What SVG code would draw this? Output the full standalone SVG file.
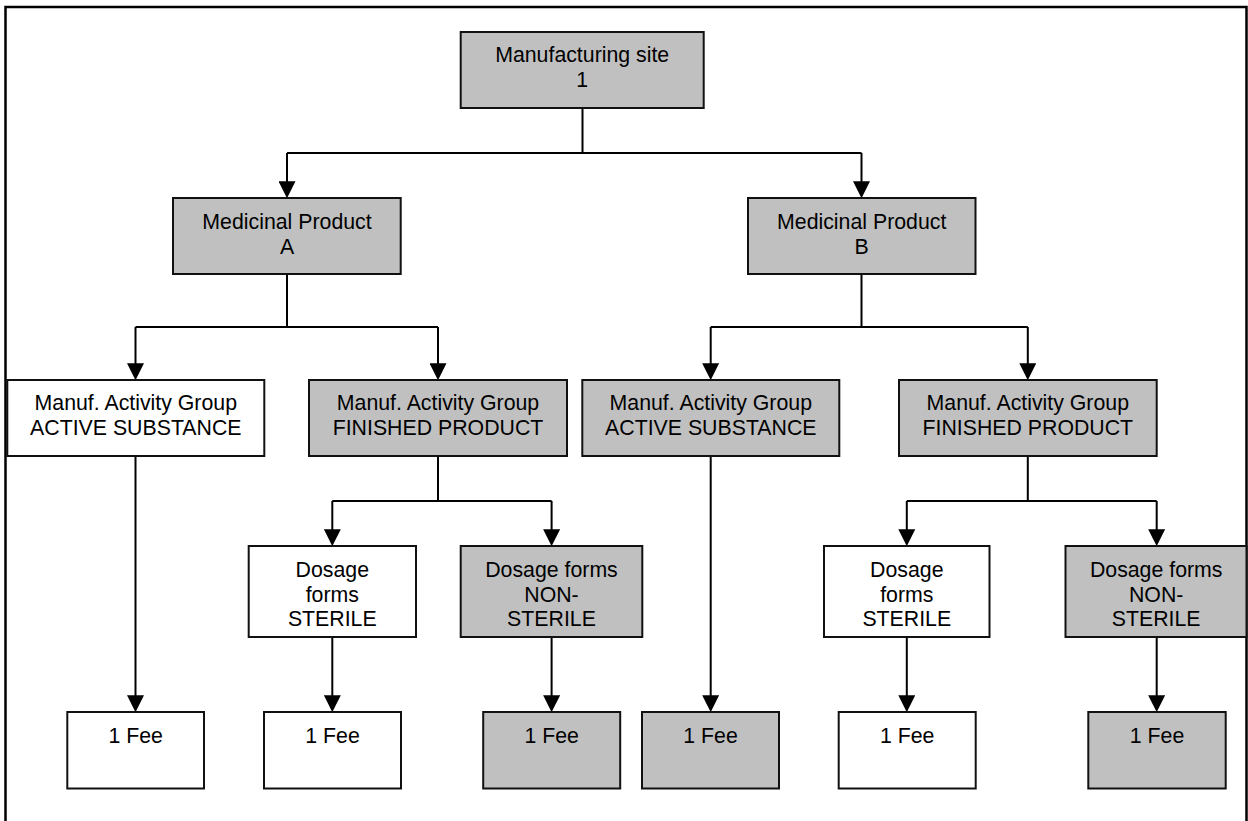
<svg xmlns="http://www.w3.org/2000/svg" width="1248" height="821" viewBox="0 0 1248 821">
<style>
.box{stroke:#111;stroke-width:2}
.g{fill:#C0C0C0}
.w{fill:#FFFFFF}
text{font-family:"Liberation Sans",Arial,sans-serif;font-size:21.3px;fill:#000;text-anchor:middle}
.c{fill:none;stroke:#000;stroke-width:2}
.a{fill:none;stroke:#000;stroke-width:2;marker-end:url(#arr)}
</style>
<defs>
<marker id="arr" markerUnits="userSpaceOnUse" markerWidth="17" markerHeight="17" viewBox="0 0 16 16" refX="13" refY="8" orient="auto">
<path d="M0,0 L16,8 L0,16 Z" fill="#000"/>
</marker>
</defs>
<rect width="1248" height="821" fill="#fff"/>
<path id="frame" d="M5.5,830 V7 H1246.5 V830" fill="none" stroke="#000" stroke-width="2.5"/>
<g id="connectors">
<path class="c" d="M582.5,108 V153 M287,153 H861.5"/>
<path class="a" d="M287,153 V195"/>
<path class="a" d="M861.5,153 V195"/>
<path class="c" d="M287,274 V327 M135.5,327 H438"/>
<path class="a" d="M135.5,327 V377"/>
<path class="a" d="M438,327 V377"/>
<path class="c" d="M861.5,274 V327 M710.7,327 H1027.8"/>
<path class="a" d="M710.7,327 V377"/>
<path class="a" d="M1027.8,327 V377"/>
<path class="a" d="M135.5,456 V709"/>
<path class="c" d="M438,456 V501 M332.3,501 H551.6"/>
<path class="a" d="M332.3,501 V543"/>
<path class="a" d="M551.6,501 V543"/>
<path class="a" d="M710.7,456 V709"/>
<path class="c" d="M1027.8,456 V501 M906.8,501 H1156.7"/>
<path class="a" d="M906.8,501 V543"/>
<path class="a" d="M1156.7,501 V543"/>
<path class="a" d="M332.3,637 V709"/>
<path class="a" d="M551.6,637 V709"/>
<path class="a" d="M906.8,637 V709"/>
<path class="a" d="M1156.7,637 V709"/>
</g>
<g id="site1"><rect class="box g" x="460.7" y="32" width="243" height="76"/><text x="582.2" y="62">Manufacturing site</text><text x="582.2" y="87">1</text></g>
<g id="productA"><rect class="box g" x="173" y="198" width="227.7" height="76"/><text x="287" y="229">Medicinal Product</text><text x="287" y="254">A</text></g>
<g id="productB"><rect class="box g" x="748" y="198" width="227.5" height="76"/><text x="861.7" y="229">Medicinal Product</text><text x="861.7" y="254">B</text></g>
<g id="activeA"><rect class="box w" x="7.3" y="380" width="257" height="76"/><text x="135.8" y="410">Manuf. Activity Group</text><text x="135.8" y="435">ACTIVE SUBSTANCE</text></g>
<g id="finishedA"><rect class="box g" x="309" y="380" width="258" height="76"/><text x="438" y="410">Manuf. Activity Group</text><text x="438" y="435">FINISHED PRODUCT</text></g>
<g id="activeB"><rect class="box g" x="582.3" y="380" width="257" height="76"/><text x="710.8" y="410">Manuf. Activity Group</text><text x="710.8" y="435">ACTIVE SUBSTANCE</text></g>
<g id="finishedB"><rect class="box g" x="899" y="380" width="257.7" height="76"/><text x="1027.8" y="410">Manuf. Activity Group</text><text x="1027.8" y="435">FINISHED PRODUCT</text></g>
<g id="sterileA"><rect class="box w" x="248.7" y="546" width="167.3" height="91"/><text x="332.3" y="577">Dosage</text><text x="332.3" y="602">forms</text><text x="332.3" y="626">STERILE</text></g>
<g id="nonsterileA"><rect class="box g" x="460.7" y="546" width="181.6" height="91"/><text x="551.5" y="577">Dosage forms</text><text x="551.5" y="602">NON-</text><text x="551.5" y="626">STERILE</text></g>
<g id="sterileB"><rect class="box w" x="824" y="546" width="165.5" height="91"/><text x="906.8" y="577">Dosage</text><text x="906.8" y="602">forms</text><text x="906.8" y="626">STERILE</text></g>
<g id="nonsterileB"><rect class="box g" x="1065.5" y="546" width="181" height="91"/><text x="1156.2" y="577">Dosage forms</text><text x="1156.2" y="602">NON-</text><text x="1156.2" y="626">STERILE</text></g>
<g id="fee1"><rect class="box w" x="67.3" y="712" width="136.7" height="76.5"/><text x="135.7" y="743">1 Fee</text></g>
<g id="fee2"><rect class="box w" x="264" y="712" width="137" height="76.5"/><text x="332.5" y="743">1 Fee</text></g>
<g id="fee3"><rect class="box g" x="483.2" y="712" width="137" height="76.5"/><text x="551.7" y="743">1 Fee</text></g>
<g id="fee4"><rect class="box g" x="642" y="712" width="137" height="76.5"/><text x="710.5" y="743">1 Fee</text></g>
<g id="fee5"><rect class="box w" x="838.7" y="712" width="137" height="76.5"/><text x="907.2" y="743">1 Fee</text></g>
<g id="fee6"><rect class="box g" x="1088.3" y="712" width="137.4" height="76.5"/><text x="1157" y="743">1 Fee</text></g>
</svg>
